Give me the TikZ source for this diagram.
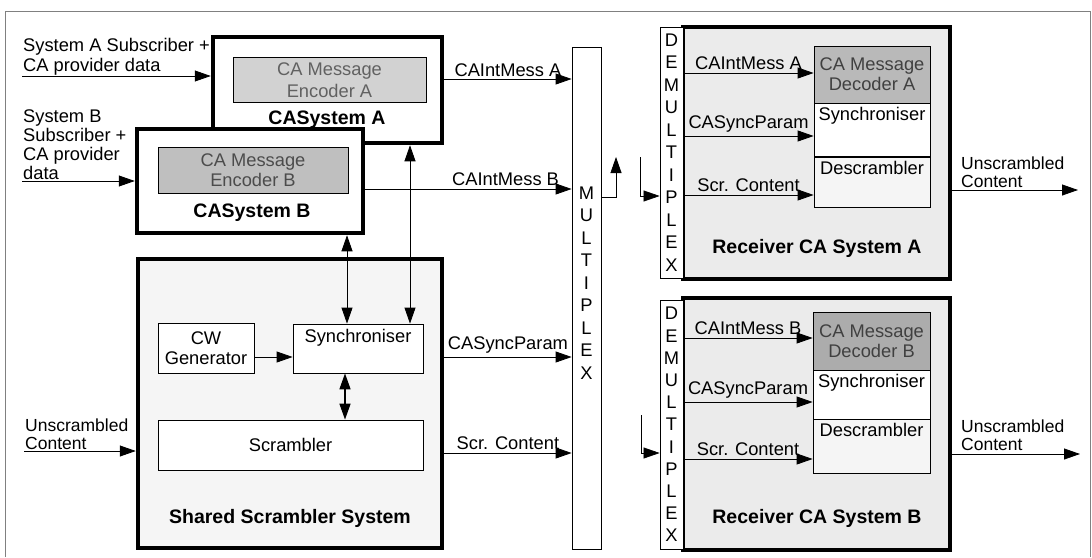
\documentclass[tikz,border=0pt]{standalone}
\usepackage{fontspec}
\setmainfont{Liberation Sans}
\usetikzlibrary{arrows.meta}

\begin{document}
\begin{tikzpicture}[x=1pt, y=-1pt,
    box/.style={draw, line width=0.8pt, inner sep=0pt, align=center},
    sysbox/.style={draw, line width=4.5pt, inner sep=0pt},
    letters/.style={align=center, inner sep=0pt},
    arr/.style={-{Triangle[length=16pt,width=11pt]}, line width=0.8pt},
    dblarr/.style={{Triangle[length=16pt,width=11pt]}-{Triangle[length=16pt,width=11pt]}, line width=0.8pt},
    title/.style={font=\fontsize{19.5}{22}\selectfont\bfseries},
    edgeline/.style={line width=0.6pt, gray},
    every node/.style={font=\fontsize{18.3}{20}\selectfont}
]
\useasboundingbox (0,0) rectangle (1092,557);

% Frame
\draw[edgeline] (5,557) -- (5,11) -- (1090,11) -- (1090,557);

% CA systems
\node[sysbox, fill=white, minimum width=229pt, minimum height=106pt] (casA) at (327.5,90) {};
\node[box, fill=gray!35, text=black!62, minimum width=193pt, minimum height=45pt,
      font=\fontsize{18.3}{22}\selectfont] (encA) at (329.5,80) {CA Message\\Encoder A};
\node[title] (casAlbl) at (327,120) {CASystem A};

\node[sysbox, fill=white, minimum width=226pt, minimum height=104pt] (casB) at (250,181) {};
\node[box, fill=gray!50, text=black!70, minimum width=190pt, minimum height=46pt] (encB) at (253,170) {CA Message\\Encoder B};
\node[title] (casBlbl) at (252,213) {CASystem B};

% Shared scrambler
\node[sysbox, fill=gray!8, minimum width=304pt, minimum height=289pt] (shared) at (290,403.5) {};
\node[box, fill=white, minimum width=96pt, minimum height=50pt] (cwgen) at (206,348) {CW\\Generator};
\node[box, fill=white, minimum width=130pt, minimum height=49pt,
      label={[anchor=north, yshift=-2pt]north:Synchroniser}] (sync) at (358,348.5) {};
\node[box, fill=white, minimum width=265pt, minimum height=50pt] (scram) at (290.5,445) {Scrambler};
\node[title] (sharedlbl) at (290,518) {Shared Scrambler System};

% Multiplexer
\node[box, fill=white, minimum width=29pt, minimum height=502pt] (mux) at (586.5,298) {};
\node[letters, font=\fontsize{18.3}{22.5}\selectfont] (muxtxt) at (586.5,283) {M\\U\\L\\T\\I\\P\\L\\E\\X};

% Receivers
\node[sysbox, fill=gray!16, minimum width=267pt, minimum height=252pt] (recA) at (816.5,153) {};
\node[box, fill=white, minimum width=23pt, minimum height=251pt,
      font=\fontsize{18.3}{22.5}\selectfont] (demuxA) at (671.5,152.5) {D\\E\\M\\U\\L\\T\\I\\P\\L\\E\\X};
\node[box, fill=gray!55, text=black!75, minimum width=116pt, minimum height=57pt] (decA) at (872,74.5) {CA Message\\Decoder A};
\node[box, fill=white, minimum width=116pt, minimum height=53pt,
      label={[anchor=north, yshift=-1pt]north:Synchroniser}] (rsyncA) at (872,129.5) {};
\node[box, fill=gray!8, minimum width=116pt, minimum height=50pt,
      label={[anchor=north, yshift=-1pt]north:Descrambler}] (descA) at (872,182) {};
\node[title] (recAlbl) at (817,248) {Receiver CA System A};

\node[sysbox, fill=gray!16, minimum width=267pt, minimum height=252pt] (recB) at (816.5,424) {};
\node[box, fill=white, minimum width=23pt, minimum height=249pt,
      font=\fontsize{18.3}{22.2}\selectfont] (demuxB) at (671.5,424.5) {D\\E\\M\\U\\L\\T\\I\\P\\L\\E\\X};
\node[box, fill=gray!65, text=black!75, minimum width=117pt, minimum height=58pt] (decB) at (871.5,341) {CA Message\\Decoder B};
\node[box, fill=white, minimum width=117pt, minimum height=49pt,
      label={[anchor=north, yshift=-1pt]north:Synchroniser}] (rsyncB) at (871.5,394.5) {};
\node[box, fill=gray!8, minimum width=117pt, minimum height=54pt,
      label={[anchor=north, yshift=-1pt]north:Descrambler}] (descB) at (871.5,446) {};
\node[title] (recBlbl) at (817,518) {Receiver CA System B};

% Inputs
\node[anchor=south west, align=left, inner sep=1pt] (inA) at (22,76) {System A Subscriber +\\CA provider data};
\node[anchor=south west, align=left, inner sep=1pt,
      font=\fontsize{18.3}{19}\selectfont] (inB) at (22,181) {System B\\Subscriber +\\CA provider\\data};
\node[anchor=south west, align=left, inner sep=1pt,
      font=\fontsize{17.5}{18}\selectfont] (inC) at (24,451) {Unscrambled\\Content};

\draw[arr] (inA.south west) -- (inA.south west -| casA.west);
\draw[arr] (inB.south west) -- (inB.south west -| casB.west);
\draw[arr] (inC.south west) -- (inC.south west -| shared.west);

% Into the multiplexer
\draw[arr] (casA.east |- 0,79) -- (mux.west |- 0,79) node[midway, above, inner sep=2pt] {CAIntMess A};
\draw[arr] (casB.east |- 0,189) -- (mux.west |- 0,189) node[pos=0.68, above] {CAIntMess B};
\draw[arr] (shared.east |- 0,357) -- (mux.west |- 0,357) node[midway, above] {CASyncParam};
\draw[arr] (shared.east |- 0,453) -- (mux.west |- 0,453) node[midway, above] {Scr. Content};

% Inside the scrambler system
\draw[arr] (cwgen.east |- 0,357) -- (sync.west |- 0,357);
\draw[dblarr] (casB.south -| 347,0) -- (sync.north -| 347,0);
\draw[dblarr] (casA.south -| 410,0) -- (sync.north -| 410,0);
\draw[dblarr, line width=1.6pt] (sync.south -| 345,0) -- (scram.north -| 345,0);

% Multiplexer out, demultiplexers in
\coordinate (muxout) at (616,157);
\coordinate (dmxAin) at (640,157);
\coordinate (dmxBin) at (641,415);
\draw[arr] (mux.east |- 0,197) -| (muxout);
\draw[arr, line width=0.6pt] (dmxAin) |- (demuxA.west |- 0,196);
\draw[arr, line width=0.6pt] (dmxBin) |- (demuxB.west |- 0,453);

% Receiver A
\draw[arr] (demuxA.east |- 0,73) -- (decA.west |- 0,73) node[midway, above] {CAIntMess A};
\draw[arr] (demuxA.east |- 0,136) -- (rsyncA.west |- 0,136) node[midway, above] {CASyncParam};
\draw[arr] (demuxA.east |- 0,195) -- (descA.west |- 0,195) node[midway, above] {Scr. Content};

% Receiver B
\draw[arr] (demuxB.east |- 0,338) -- (decB.west |- 0,338) node[midway, above] {CAIntMess B};
\draw[arr] (demuxB.east |- 0,402) -- (rsyncB.west |- 0,402) node[midway, above] {CASyncParam};
\draw[arr] (demuxB.east |- 0,459) -- (descB.west |- 0,459) node[midway, above] {Scr. Content};

% Outputs
\node[anchor=south west, align=left, inner sep=1pt,
      font=\fontsize{17.5}{18}\selectfont] (outA) at (960,189) {Unscrambled\\Content};
\node[anchor=south west, align=left, inner sep=1pt,
      font=\fontsize{17.5}{18}\selectfont] (outB) at (960,452) {Unscrambled\\Content};
\coordinate (endA) at (1078,190);
\coordinate (endB) at (1080,454);
\draw[arr] (recA.east |- endA) -- (endA);
\draw[arr] (recB.east |- endB) -- (endB);

\end{tikzpicture}
\end{document}
